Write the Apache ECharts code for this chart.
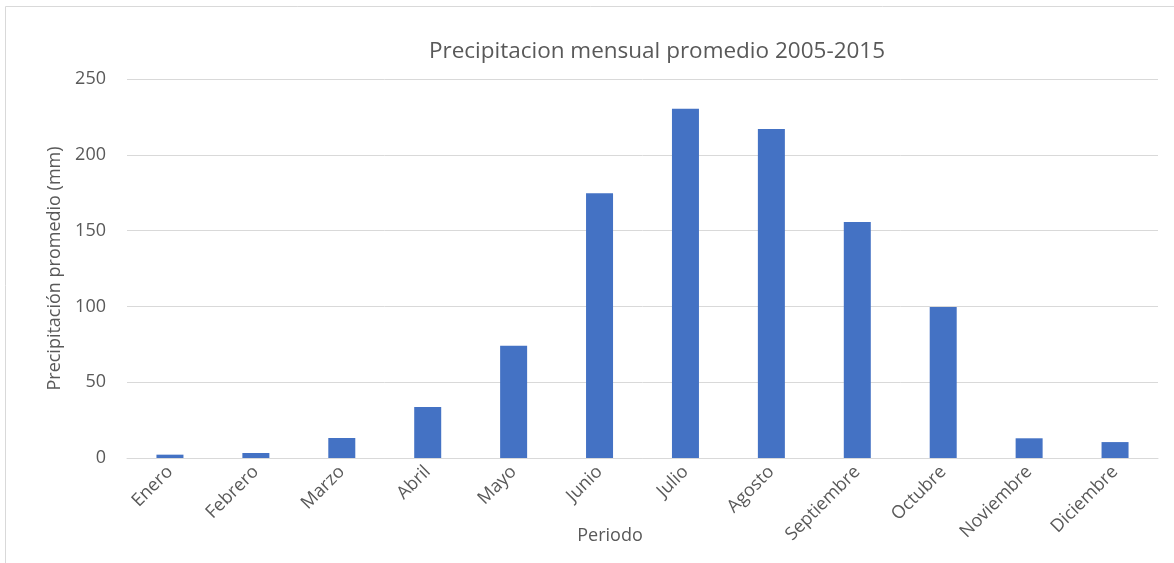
<!DOCTYPE html>
<html>
<head>
<meta charset="utf-8">
<script src="https://cdn.jsdelivr.net/npm/echarts@6/dist/echarts.min.js"></script>
<style>
  html, body { margin: 0; padding: 0; background: #fff; }
  #chart { width: 1174px; height: 563px; }
</style>
</head>
<body>
<div id="chart"></div>
<script>
    // datos
    const meses = ['Enero', 'Febrero', 'Marzo', 'Abril', 'Mayo', 'Junio', 'Julio',
        'Agosto', 'Septiembre', 'Octubre', 'Noviembre', 'Diciembre'];
    const precipitacion = [2.2, 3.3, 13.2, 33.6, 74.1, 174.6, 230.4, 217.0, 155.7, 99.6, 13.0, 10.5];
    const yTicks = [0, 50, 100, 150, 200, 250];

    const gris = '#595959';
    let myChart = echarts.init(document.getElementById('chart'));
    myChart.setOption({
        animation: false,
        graphic: [{
            type: 'rect',
            shape: {x: 5.5, y: 6.5, width: 1200, height: 600},
            style: {fill: 'none', stroke: '#d9d9d9', lineWidth: 1},
            silent: true
        }],
        title: {
            text: 'Precipitacion mensual promedio 2005-2015',
            left: 652,
            top: 35,
            textAlign: 'center',
            textStyle: {
                fontFamily: 'Open Sans',
                fontSize: 22.5,
                fontWeight: 'normal',
                color: gris
            }
        },
        grid: {
            left: 127,
            right: 16,
            top: 79,
            bottom: 105,
            outerBoundsMode: 'none',
            containLabel: false
        },
        xAxis: {
            type: 'category',
            data: meses,
            name: 'Periodo',
            nameLocation: 'middle',
            nameGap: 69,
            nameMoveOverlap: false,
            nameTextStyle: {fontFamily: 'Open Sans', fontSize: 18, color: gris, padding: [0, 0, 0, -65]},
            axisLine: {lineStyle: {color: '#d9d9d9', width: 1}},
            axisTick: {show: false},
            axisLabel: {
                rotate: 45,
                interval: 0,
                margin: 11,
                fontFamily: 'Open Sans',
                fontSize: 18,
                color: gris
            }
        },
        yAxis: {
            type: 'value',
            min: yTicks[0],
            max: yTicks[yTicks.length - 1],
            interval: 50,
            name: 'Precipitación promedio (mm)',
            nameLocation: 'middle',
            nameGap: 63,
            nameMoveOverlap: false,
            nameTextStyle: {fontFamily: 'Open Sans', fontSize: 18, color: gris},
            axisLine: {show: false},
            axisTick: {show: false},
            splitLine: {lineStyle: {color: '#d9d9d9', width: 1}},
            axisLabel: {
                margin: 21,
                fontFamily: 'Open Sans',
                fontSize: 18,
                color: gris
            }
        },
        series: [{
            type: 'bar',
            data: precipitacion,
            barWidth: 27,
            itemStyle: {color: '#4472C4'}
        }]
    });
</script>
</body>
</html>
